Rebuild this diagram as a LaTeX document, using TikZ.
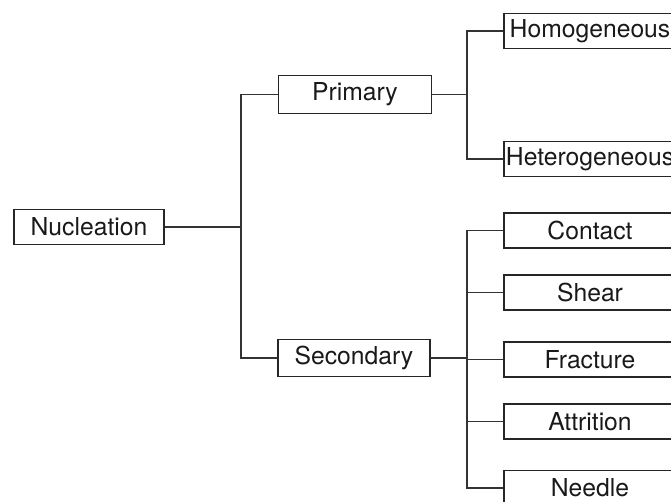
\documentclass[tikz,border=0pt]{standalone}
\usepackage{fontspec}
\setmainfont{TeX Gyre Heros}
\usetikzlibrary{positioning}

\begin{document}
\begin{tikzpicture}[x=1pt, y=-1pt]
    % Setup the style for the boxes
    \tikzset{box style/.style={draw=black!85,
                               line width=1.1pt,
                               inner sep=0pt,
                               minimum height=35pt,
                               text=black!90,
                               font=\fontsize{24.7}{28}\selectfont},
             link style/.style={draw=black!80, line width=1.1pt}}

    % Frame of the picture
    \useasboundingbox (0, 0) rectangle (671, 502);
    \clip (0, 0) rectangle (671, 502);

    % Draw the boxes
    \node[box style, minimum width=150pt] at (89, 227)  (nucleation)    {Nucleation};
    \node[box style, minimum width=153pt, minimum height=38pt] at (355, 94.5) (primary)   {Primary};
    \node[box style, minimum width=152pt, minimum height=37pt] at (354, 358)  (secondary) {Secondary};

    \node[box style, minimum width=172pt] at (590, 31)    (homogeneous)   {Homogeneous};
    \node[box style, minimum width=172pt] at (590, 159)   (heterogeneous) {Heterogeneous};
    \foreach \name/\label/\y in {contact/Contact/230.5, shear/Shear/292.5,
                                 fracture/Fracture/359.5, attrition/Attrition/421.5,
                                 needle/Needle/488}
        \node[box style, minimum width=172pt] at (590, \y) (\name) {\label};

    % Branch points
    \coordinate (split nucleation) at (241, 227);
    \coordinate (split primary)    at (467, 94.5);
    \coordinate (split secondary)  at (467, 358);

    % Connect the boxes
    \path[link style]
        (nucleation.east) -- (split nucleation)
        (primary.west) -| (split nucleation) |- (secondary.west)
        (primary.east) -- (split primary)
        (homogeneous.west) -| (split primary) |- (heterogeneous.west)
        (secondary.east) -- (split secondary)
        (contact.west) -| (split secondary) |- (needle.west);
    \foreach \name in {shear, fracture, attrition}
        \draw[link style] (\name.west) -- (\name.west -| split secondary);
\end{tikzpicture}
\end{document}
